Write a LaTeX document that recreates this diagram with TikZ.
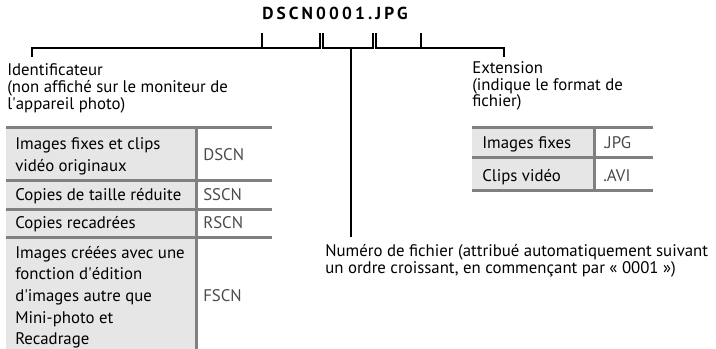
\documentclass[tikz,border=0pt]{standalone}
\usepackage{fontspec}
\setmainfont{PT Sans}
\newfontfamily\titlefont[LetterSpace=18]{PT Sans Bold}
\definecolor{rulegray}{HTML}{808080}
\definecolor{cellgray}{HTML}{E6E6E6}
\definecolor{valgray}{HTML}{4A4A4A}
\begin{document}
\begin{tikzpicture}[x=0.75pt,y=-0.75pt,
  txt/.style={anchor=base west,inner sep=0pt,font=\fontsize{12.6}{14}\selectfont},
  val/.style={txt,text=valgray},
  tablerule/.style={draw=rulegray,line width=2.25pt},
  conn/.style={draw=black,line width=1.5pt}]
\useasboundingbox (0,0) rectangle (716,349);
% title
\node[anchor=base west,inner sep=0pt,font=\titlefont\fontsize{13}{15}\selectfont] (title) at (262,20) {DSCN0001.JPG};
% bracket coordinates
\coordinate (lA) at (32,57);
\coordinate (lB) at (32,48);
\coordinate (t1b) at (262,48); \coordinate (t1t) at (262,33);
\coordinate (t2b) at (319.5,48); \coordinate (t2t) at (319.5,33);
\coordinate (t3b) at (323,48); \coordinate (t3t) at (323,33);
\coordinate (t4b) at (373,48); \coordinate (t4t) at (373,33);
\coordinate (t5b) at (376,48); \coordinate (t5t) at (376,33);
\coordinate (t6b) at (421,48); \coordinate (t6t) at (421,33);
\coordinate (rB) at (504,48);
\coordinate (rA) at (504,57);
\coordinate (mT) at (351,48);
\coordinate (mB) at (351,237);
\draw[conn] (lA) -- (lB) -- (t1b) -- (t1t);
\draw[conn] (t1b) -- (t2b) -- (t2t);
\draw[conn] (t3t) -- (t3b) -- (t4b) -- (t4t);
\draw[conn] (t5t) -- (t5b) -- (t6b) -- (t6t);
\draw[conn] (t6b) -- (rB) -- (rA);
\draw[conn] (mT) -- (mB);
% labels
\node[txt] (id1) at (7,76) {Identificateur};
\node[txt] (id2) at (7,93) {(non affiché sur le moniteur de};
\node[txt] (id3) at (7,109.5) {l\textquotesingle appareil photo)};
\node[txt] (ex1) at (472,74) {Extension};
\node[txt] (ex2) at (472,90.5) {(indique le format de};
\node[txt] (ex3) at (472,107) {fichier)};
\node[txt] (nu1) at (325,256.5) {Numéro de fichier (attribué automatiquement suivant};
\node[txt] (nu2) at (325,273) {un ordre croissant, en commençant par « 0001 »)};
% left table
\fill[cellgray] (6,128) rectangle (196,349);
\draw[tablerule] (6,128) -- (272,128);
\draw[tablerule] (6,180) -- (272,180);
\draw[tablerule] (6,209) -- (272,209);
\draw[tablerule] (6,237) -- (272,237);
\draw[tablerule] (196,128) -- (196,349);
\node[txt] (r1a) at (15,149) {Images fixes et clips};
\node[txt] (r1b) at (15,171) {vidéo originaux};
\node[val] (v1) at (203,160) {DSCN};
\node[txt] (r2) at (15,200) {Copies de taille réduite};
\node[val] (v2) at (203,200) {SSCN};
\node[txt] (r3) at (15,228) {Copies recadrées};
\node[val] (v3) at (203,228) {RSCN};
\node[txt] (r4a) at (15,258) {Images créées avec une};
\node[txt] (r4b) at (15,279.7) {fonction d\textquotesingle édition};
\node[txt] (r4c) at (15,301.4) {d\textquotesingle images autre que};
\node[txt] (r4d) at (15,323) {Mini-photo et};
\node[txt] (r4e) at (15,344.7) {Recadrage};
\node[val] (v4) at (203,301.4) {FSCN};
% right table
\fill[cellgray] (472,128) rectangle (594,190);
\draw[tablerule] (472,128) -- (653,128);
\draw[tablerule] (472,157) -- (653,157);
\draw[tablerule] (472,190) -- (653,190);
\draw[tablerule] (594,126) -- (594,190);
\node[txt] (e1) at (482,148) {Images fixes};
\node[val] (ev1) at (603,148) {.JPG};
\node[txt] (e2) at (482,181) {Clips vidéo};
\node[val] (ev2) at (603,181) {.AVI};
\end{tikzpicture}
\end{document}
